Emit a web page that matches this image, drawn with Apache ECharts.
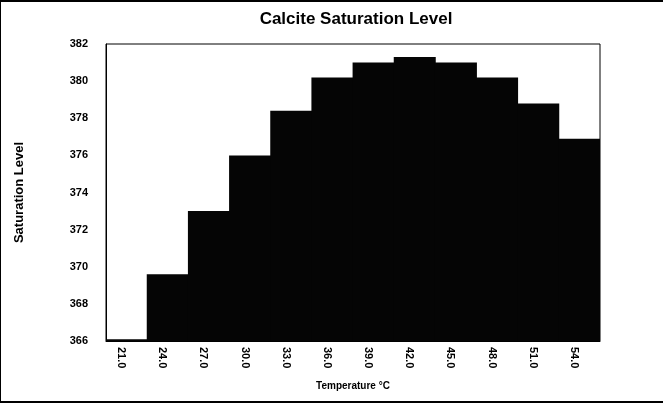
<!DOCTYPE html>
<html>
<head>
<meta charset="utf-8">
<script src="https://cdn.jsdelivr.net/npm/echarts@6/dist/echarts.min.js"></script>
<style>
html, body { margin: 0; padding: 0; background: #fff; }
#chart { width: 663px; height: 403px; box-sizing: border-box; border-top: 2px solid #000; border-left: 1px solid #000; border-bottom: 2px solid #000; }
</style>
</head>
<body>
<div id="chart"></div>
<script>
var temperatures = ['21.0', '24.0', '27.0', '30.0', '33.0', '36.0', '39.0', '42.0', '45.0', '48.0', '51.0', '54.0'];
var saturation = [366.1, 369.6, 373.0, 376.0, 378.4, 380.2, 381.0, 381.3, 381.0, 380.2, 378.8, 376.9];

var myChart = echarts.init(document.getElementById('chart'));
var option = {
    animation: false,
    title: {
        text: 'Calcite Saturation Level',
        left: 350,
        textAlign: 'center',
        top: 4,
        textStyle: { fontFamily: 'Liberation Sans', fontSize: 17, fontWeight: 'bold', color: '#000' }
    },
    grid: {
        left: 105,
        right: 63,
        top: 42,
        bottom: 60,
        show: true,
        borderColor: '#000',
        borderWidth: 1,
        containLabel: false
    },
    xAxis: {
        type: 'category',
        data: temperatures,
        name: 'Temperature °C',
        nameLocation: 'middle',
        nameGap: 40,
        nameTextStyle: { fontFamily: 'Liberation Sans', fontSize: 10, fontWeight: 'bold', color: '#000' },
        axisLine: { lineStyle: { color: '#000' } },
        axisTick: { show: false },
        // labels sit a little left of the bar centre in the original
        axisLabel: { rotate: -90, interval: 0, verticalAlign: 'top', fontFamily: 'Liberation Sans', fontSize: 11, fontWeight: 'bold', color: '#000', margin: 6 }
    },
    yAxis: {
        type: 'value',
        min: 366,
        max: 382,
        interval: 2,
        name: 'Saturation Level',
        nameLocation: 'middle',
        nameGap: 80,
        nameTextStyle: { fontFamily: 'Liberation Sans', fontSize: 13, fontWeight: 'bold', color: '#000' },
        axisLine: { show: true, lineStyle: { color: '#000' } },
        axisTick: { show: false },
        splitLine: { show: false },
        axisLabel: { fontFamily: 'Liberation Sans', fontSize: 11, fontWeight: 'bold', color: '#000', margin: 18 }
    },
    series: [{
        type: 'bar',
        data: saturation,
        barWidth: 42,
        itemStyle: { color: '#050505' }
    }]
};
myChart.setOption(option);
</script>
</body>
</html>
